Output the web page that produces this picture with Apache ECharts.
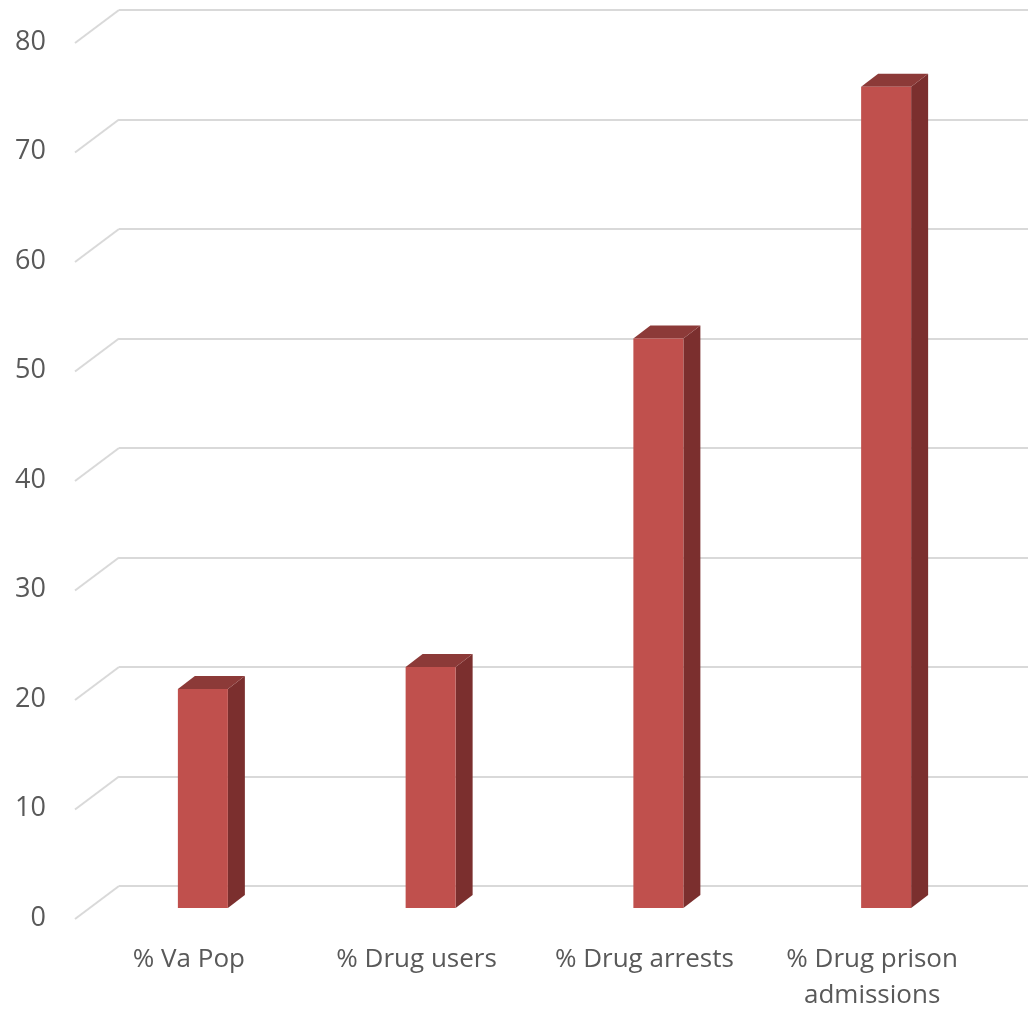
<!DOCTYPE html>
<html>
<head>
<meta charset="utf-8">
<script src="https://cdn.jsdelivr.net/npm/echarts@6/dist/echarts.min.js"></script>
<style>
html,body{margin:0;padding:0;background:#fff;}
#chart{width:1033px;height:1009px;}
</style>
</head>
<body>
<div id="chart"></div>
<script>
const categories = ['% Va Pop', '% Drug users', '% Drug arrests', '% Drug prison\nadmissions'];
const values = [20, 22, 52, 75];
const yMin = 0;
const yMax = 80;
const yStep = 10;
const gridTicks = [0, 10, 20, 30, 40, 50, 60, 70, 80];

const DEPTH_X = 17, DEPTH_Y = 13;   // bar depth
const WALL_X = 44, WALL_Y = 33;     // floor depth (front edge to back wall)
const BAR_W = 50;

const chart = echarts.init(document.getElementById('chart'), null, {renderer: 'canvas'});

const font = "'Open Sans', 'Liberation Sans', sans-serif";

chart.setOption({
  animation: false,
  backgroundColor: '#ffffff',
  grid: [
    {left: 75, right: 47, top: 42, bottom: 91, outerBoundsMode: 'none', containLabel: false},
    {left: 119, right: 5, top: 10, bottom: 123, outerBoundsMode: 'none', containLabel: false},
    {left: 89, right: 33, top: 32, bottom: 101, outerBoundsMode: 'none', containLabel: false}
  ],
  xAxis: [
    {gridIndex: 0, type: 'category', data: categories,
     axisLine: {show: false}, axisTick: {show: false},
     axisLabel: {fontSize: 26, color: '#595959', fontFamily: font, margin: 24, lineHeight: 36, interval: 0}},
    {gridIndex: 1, type: 'value', min: 0, max: 1, show: false},
    {gridIndex: 2, type: 'category', data: categories, show: false}
  ],
  yAxis: [
    {gridIndex: 0, type: 'value', min: yMin, max: yMax, interval: yStep,
     axisLine: {show: false}, axisTick: {show: false}, splitLine: {show: false},
     axisLabel: {fontSize: 27, color: '#595959', fontFamily: font, margin: 29}},
    {gridIndex: 1, type: 'value', min: yMin, max: yMax, interval: yStep,
     axisLine: {show: false}, axisTick: {show: false}, axisLabel: {show: false},
     splitLine: {show: true, lineStyle: {color: '#D9D9D9', width: 2}}},
    {gridIndex: 2, type: 'value', min: yMin, max: yMax, interval: yStep, show: false}
  ],
  series: [
    {
      type: 'custom',
      xAxisIndex: 1, yAxisIndex: 1,
      data: gridTicks.map(v => [0, v]),
      silent: true,
      z: 1,
      renderItem: function (params, api) {
        const p = api.coord([0, api.value(1)]);
        return {
          type: 'line',
          shape: {x1: p[0] - WALL_X, y1: p[1] + WALL_Y, x2: p[0], y2: p[1]},
          style: {stroke: '#D9D9D9', lineWidth: 2}
        };
      }
    },
    {
      type: 'custom',
      xAxisIndex: 2, yAxisIndex: 2,
      data: values.map((v, i) => [i, v]),
      z: 5,
      renderItem: function (params, api) {
        const idx = api.value(0);
        const base = api.coord([idx, 0]);
        const top = api.coord([idx, api.value(1)]);
        const x0 = base[0] - BAR_W / 2, x1 = base[0] + BAR_W / 2;
        const yb = base[1], yt = top[1];
        return {
          type: 'group',
          children: [
            {type: 'polygon', shape: {points: [[x1, yt], [x1 + DEPTH_X, yt - DEPTH_Y], [x1 + DEPTH_X, yb - DEPTH_Y], [x1, yb]]},
             style: {fill: '#7B2F2E'}},
            {type: 'polygon', shape: {points: [[x0, yt], [x0 + DEPTH_X, yt - DEPTH_Y], [x1 + DEPTH_X, yt - DEPTH_Y], [x1, yt]]},
             style: {fill: '#8C3A38'}},
            {type: 'rect', shape: {x: x0, y: yt, width: BAR_W, height: yb - yt},
             style: {fill: '#C0504D'}}
          ]
        };
      }
    }
  ]
});
</script>
</body>
</html>
